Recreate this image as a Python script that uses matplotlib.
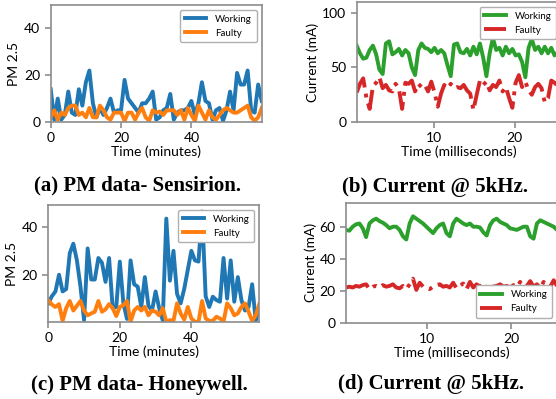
import numpy as np
import matplotlib
matplotlib.use("Agg")
import matplotlib.pyplot as plt

# ---- data ----
minutes_a = np.arange(61)
pm_sens_working = [14, 1, 10, 1, 3, 13, 4, 3, 14, 7, 17, 22, 8, 2, 6, 3, 6, 10, 4, 5,
                   5, 18, 10, 8, 6, 4, 8, 8, 10, 13, 1, 2, 5, 6, 12, 1, 4, 5, 5, 6,
                   9, 3, 8, 17, 9, 8, 1, 5, 6, 0.5, 5, 13, 5, 21, 16, 16, 22, 5, 4, 16, 9]
pm_sens_faulty = [2, 5, 1, 4, 3, 6, 7, 7, 3, 4, 2, 6, 2, 2, 7, 5, 2, 1, 4, 4,
                  4, 0.5, 4, 4, 1, 4, 6, 2, 0.5, 5, 4, 4.5, 3, 5, 5, 5, 3, 5, 1, 6,
                  3, 0.5, 7, 4, 1, 5, 2, 1, 3, 5, 6, 5, 4, 4, 5, 6, 7, 2, 0.5, 2, 6]

minutes_c = np.arange(60)
pm_honey_working = [8, 11, 13, 20, 13, 14, 29, 33, 26, 15, 1, 31, 18, 18, 27, 25, 17, 27, 6, 6.5,
                    25.5, 8, 1.5, 26, 16, 15, 6.5, 19, 7, 5, 13, 6, 1, 43.5, 17.5, 30, 12, 8, 14, 22,
                    30, 26, 25.5, 46.5, 11, 6.5, 10.8, 9.4, 8.7, 27, 10, 26, 8.7, 19, 9.4, 5, 6.5, 16, 0.7, 6.5]
pm_honey_faulty = [9.4, 7.5, 6.5, 7.7, 0.7, 6, 9, 5, 7, 9, 5, 3, 3.8, 4.5, 9, 4.5, 5.5, 7.7, 6, 2.7,
                   6.5, 7.2, 9, 0.3, 5, 6.5, 5, 6.5, 3, 5, 4.5, 3, 6, 0.3, 1, 0.7, 8, 3.8, 1.2, 6.5,
                   1.7, 0.3, 0.3, 9, 1.7, 0.7, 0.7, 2.4, 1.7, 0.3, 8, 6, 3, 3.8, 6.5, 8, 4.5, 0.7, 3, 7.7]

ms_b = 0.5 + 0.4 * np.arange(64)
cur_b_working = [70, 63, 58, 59, 66, 70, 62, 48, 44, 72, 74, 62, 64, 67, 61, 66, 63, 50, 43, 66,
                 72, 68, 67, 64, 68, 63, 66, 63, 52, 42, 71, 72, 64, 63, 67, 61, 69, 62, 72, 59,
                 42, 63, 77, 66, 68, 61, 69, 63, 67, 61, 62, 55, 41, 68, 76, 66, 69, 63, 69, 63,
                 68, 61, 64, 66]
cur_b_faulty = [27, 35, 40, 22, 12, 33, 36, 41, 31, 34, 29, 28, 35, 31, 12, 36, 35, 38, 28, 35,
                32, 34, 28, 37, 27, 14, 26, 34, 31, 35, 31, 32, 31, 34, 29, 26, 11, 25, 38, 34,
                37, 29, 34, 32, 38, 28, 32, 22, 13, 36, 43, 32, 37, 29, 25, 32, 35, 31, 18, 22,
                38, 36, 33, 30]

ms_d = 0.3 + 0.4 * np.arange(64)
cur_d_working = [58, 57.5, 60, 61.5, 62, 59, 53.5, 62, 64, 65, 63.5, 62.5, 61, 59, 60, 60, 58, 54, 52, 62,
                 66.5, 65, 63.5, 62, 60, 58, 56, 59, 61, 62, 56, 54, 62, 65, 63.5, 62, 61, 62, 60, 60,
                 59.5, 56.5, 54.5, 61, 64, 65, 63, 62, 61, 59, 58.5, 58, 59, 60, 60, 54, 52.5, 62, 64, 63,
                 62, 61, 60, 58]
cur_d_faulty = [22, 22.5, 22, 23, 22.5, 23.5, 24, 21, 22.5, 23, 22, 23.5, 22.5, 23, 24, 22, 21.5, 23, 21, 24,
                27.5, 20.5, 25, 22.5, 22, 21, 22.5, 23.5, 24, 22.5, 23, 22, 25, 21.5, 23, 24.5, 21, 25.5, 22, 24,
                22.5, 25, 21.5, 23.5, 22.5, 23, 24, 22.5, 23, 22, 23.5, 22.5, 25.5, 21, 23, 26, 22.5, 24, 21.5, 25.5,
                23, 22.5, 26.5, 23]

captions = ["(a) PM data- Sensirion.", "(b) Current @ 5kHz.",
            "(c) PM data- Honeywell.", "(d) Current @ 5kHz."]

W, H = 556, 399
fig = plt.figure(figsize=(W / 100, H / 100), dpi=100)
plt.rcParams['font.family'] = ['Lato', 'DejaVu Sans']

def add_ax(l, t, r, b):
    return fig.add_axes([l / W, 1 - b / H, (r - l) / W, (b - t) / H])

def style(ax):
    for s in ax.spines.values():
        s.set_color('#8c8c8c')
        s.set_linewidth(1.2)
    ax.tick_params(colors='#8c8c8c', labelcolor='black', labelsize=10, length=4, width=1.2)

gray_leg = dict(fontsize=7, framealpha=1, edgecolor='#b0b0b0', handlelength=2.2,
                handletextpad=0.9, borderpad=0.5, labelspacing=0.5)

# (a)
ax = add_ax(50.7, 5, 261.7, 122)
ax.plot(minutes_a, pm_sens_working, color='#1f77b4', lw=2.8, label='Working')
ax.plot(minutes_a, pm_sens_faulty, color='#ff7f0e', lw=2.8, label='Faulty')
ax.set_xlim(0, 60)
ax.set_ylim(0, 50)
ax.set_yticks([0, 20, 40])
ax.set_xticks([0, 20, 40])
ax.set_xlabel('Time (minutes)', fontsize=10, labelpad=1)
ax.set_ylabel('PM 2.5', fontsize=10, labelpad=3)
ax.legend(loc='upper right', **gray_leg)
style(ax)

# (b)
ax = add_ax(356.7, 2, 561, 122)
ax.plot(ms_b, cur_b_working, color='#2ca02c', lw=2.8, label='Working')
ax.plot(ms_b, cur_b_faulty, color='#d62728', lw=2.8, ls='-.', label='Faulty')
ax.set_xlim(ms_b[0], ms_b[-1])
ax.set_ylim(0, 110)
ax.set_yticks([0, 50, 100])
ax.set_xticks([10, 20])
ax.set_xlabel('Time (milliseconds)', fontsize=10, labelpad=1)
ax.set_ylabel('Current (mA)', fontsize=10, labelpad=2)
ax.legend(loc='upper right', **gray_leg)
style(ax)

# (c)
ax = add_ax(48.3, 205, 259.3, 322)
ax.plot(minutes_c, pm_honey_working, color='#1f77b4', lw=2.8, label='Working')
ax.plot(minutes_c, pm_honey_faulty, color='#ff7f0e', lw=2.8, label='Faulty')
ax.set_xlim(0, 59)
ax.set_ylim(0.2, 49.2)
ax.set_yticks([20, 40])
ax.set_xticks([0, 20, 40])
ax.set_xlabel('Time (minutes)', fontsize=10, labelpad=1)
ax.set_ylabel('PM 2.5', fontsize=10, labelpad=3)
ax.legend(loc='upper right', **gray_leg)
style(ax)

# (d)
ax = add_ax(346, 202.7, 557, 322.7)
ax.plot(ms_d, cur_d_working, color='#2ca02c', lw=2.8, label='Working')
ax.plot(ms_d, cur_d_faulty, color='#d62728', lw=2.8, ls='-.', label='Faulty')
ax.set_xlim(ms_d[0], ms_d[-1])
ax.set_ylim(0, 75)
ax.set_yticks([0, 20, 40, 60])
ax.set_xticks([10, 20])
ax.set_xlabel('Time (milliseconds)', fontsize=10, labelpad=1)
ax.set_ylabel('Current (mA)', fontsize=10, labelpad=2)
ax.legend(loc='lower right', **gray_leg)
style(ax)

cap_pos = [(137, 185), (434.7, 187), (139.5, 385), (431, 384)]
for txt, (cx, cy) in zip(captions, cap_pos):
    fig.text(cx / W, 1 - cy / H, txt, ha='center', va='center', fontsize=15,
             fontweight='bold', family='Liberation Serif')

fig.savefig('out.png', dpi=100)
